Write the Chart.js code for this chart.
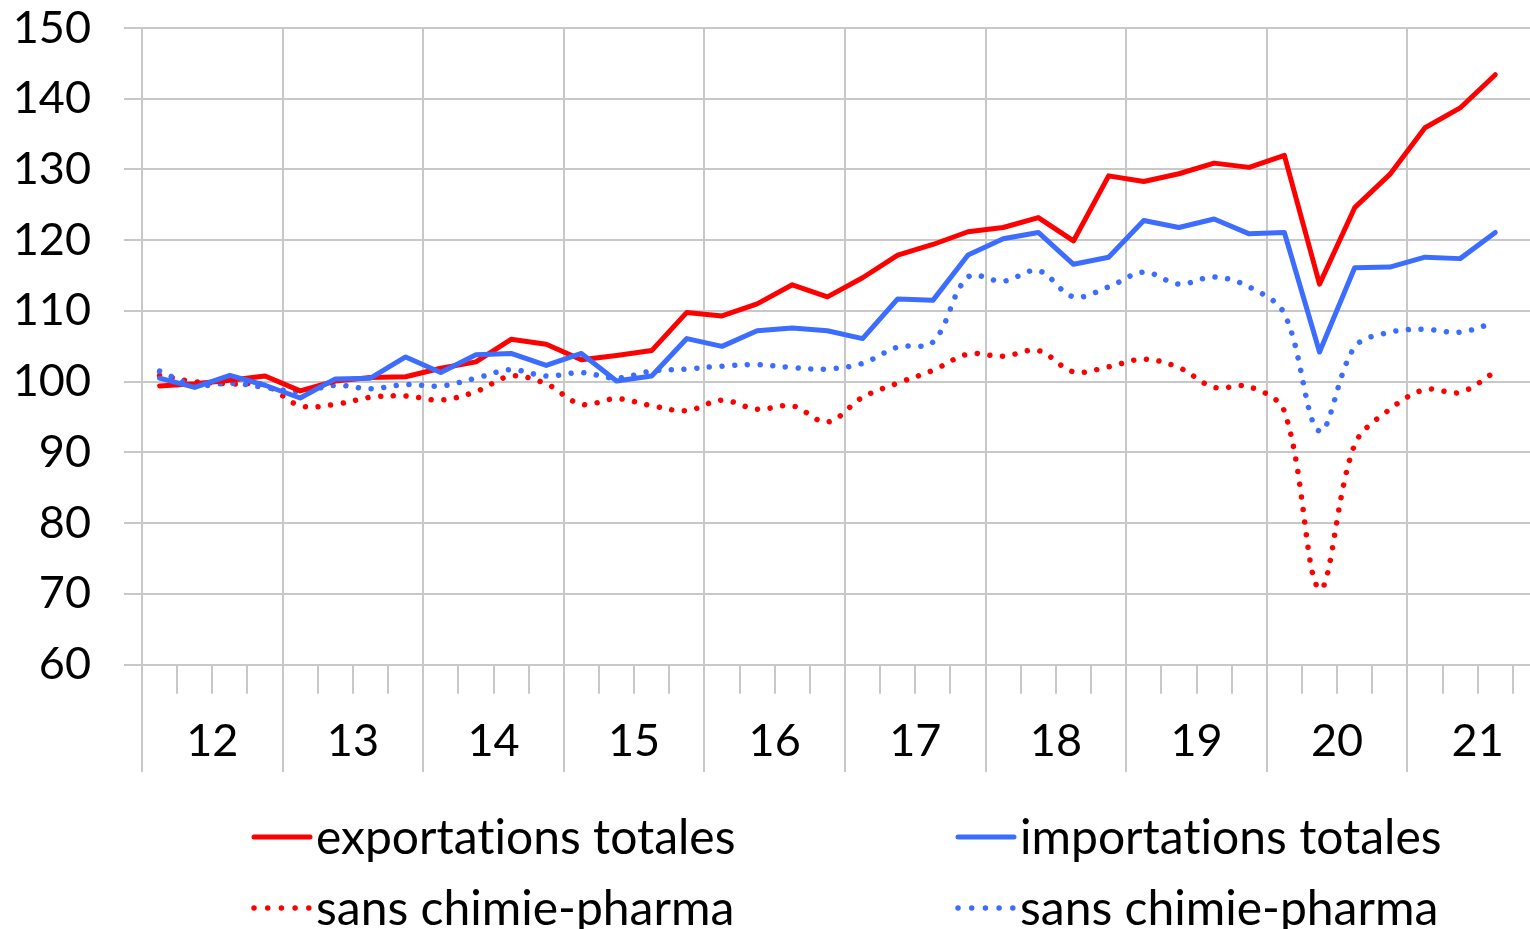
<!DOCTYPE html>
<html><head><meta charset="utf-8">
<script src="https://cdn.jsdelivr.net/npm/chart.js@4.4.1/dist/chart.umd.min.js"></script>
<style>
html,body{margin:0;padding:0;width:1530px;height:929px;overflow:hidden;background:#fff;}
#wrap{position:absolute;left:0;top:0;width:1560px;height:780px;}
#legend{position:absolute;left:0;top:0;width:1530px;height:929px;pointer-events:none;}
.item{position:absolute;height:60px;display:flex;align-items:center;white-space:nowrap;
  font-family:Lato,"Open Sans",sans-serif;font-size:48px;color:#000;
  font-variant-ligatures:none;font-feature-settings:"liga" 0,"clig" 0;}
.item svg{margin-right:3px;flex:none;}
</style></head>
<body>
<div id="wrap"><canvas id="c" width="1560" height="780"></canvas></div>
<div id="legend"></div>
<script>
// ---- data (quarterly, 2012Q1 .. 2021Q3) ----
const years = ['12','13','14','15','16','17','18','19','20','21'];
const seriesLabels = ['exportations totales','importations totales','sans chimie-pharma','sans chimie-pharma'];
const exportsTotal = [99.4,99.7,100.2,100.8, 98.7,100.1,100.6,100.7, 101.9,102.8,106.0,105.3,
  103.1,103.7,104.4,109.8, 109.3,111.0,113.7,112.0, 114.7,117.9,119.4,121.2, 121.8,123.2,119.9,129.1,
  128.3,129.4,130.9,130.3, 132.0,113.8,124.6,129.3, 135.9,138.7,143.4];
const importsTotal = [100.5,99.2,100.9,99.5, 97.7,100.4,100.5,103.5, 101.3,103.8,104.0,102.3,
  104.0,100.1,100.8,106.1, 105.0,107.2,107.6,107.2, 106.1,111.7,111.5,117.9, 120.2,121.1,116.6,117.6,
  122.8,121.8,123.0,120.9, 121.1,104.2,116.1,116.2, 117.6,117.4,121.1];
const exportsExPharma = [100.9,100.0,99.7,99.5, 96.6,96.8,97.8,98.0, 97.4,98.6,100.8,99.7,
  96.8,97.6,96.6,95.9, 97.4,96.1,96.6,94.3, 97.8,99.8,101.6,103.9, 103.6,104.4,101.4,102.1,
  103.2,102.0,99.2,99.3, 95.8,70.7,91.1,96.1, 98.9,98.5,101.4];
const importsExPharma = [101.5,99.5,99.8,99.2, 98.6,99.5,99.0,99.6, 99.4,100.5,101.7,100.8,
  101.3,100.5,101.5,101.8, 102.2,102.4,102.0,101.8, 102.6,104.9,105.6,114.8, 114.2,115.7,112.0,113.4,
  115.5,113.8,114.8,113.4, 109.6,93.0,104.9,107.0, 107.4,107.0,108.4];
const yTicks = [60,70,80,90,100,110,120,130,140,150];

// ---- styles ----
const RED = '#ff0000', BLUE = '#3c6dff', GRID = '#c8c8c8';
const FONT = 'Lato, "Open Sans", sans-serif';
const nQuarters = years.length * 4;
const toPts = arr => arr.map((v, i) => ({x: i + 0.5, y: v}));
const DOT = [0.001, 12.7];

const datasets = [
  {label: seriesLabels[0], data: toPts(exportsTotal), borderColor: RED, borderWidth: 5, tension: 0, order: 1},
  {label: seriesLabels[1], data: toPts(importsTotal), borderColor: BLUE, borderWidth: 5, tension: 0, order: 0},
  {label: seriesLabels[2], data: toPts(exportsExPharma), borderColor: RED, borderWidth: 5.5, borderDash: DOT, tension: 0.35, order: 3},
  {label: seriesLabels[3], data: toPts(importsExPharma), borderColor: BLUE, borderWidth: 5.5, borderDash: DOT, tension: 0.35, order: 2}
].map(d => Object.assign({pointRadius: 0, fill: false, borderCapStyle: 'round', borderJoinStyle: 'round'}, d));

const yearLines = {
  id: 'yearLines',
  afterDraw(chart) {
    const xs = chart.scales.x, ctx = chart.ctx;
    ctx.save();
    ctx.strokeStyle = GRID; ctx.lineWidth = 2;
    for (let v = 0; v <= nQuarters; v += 4) {
      const px = Math.round(xs.getPixelForValue(v));
      ctx.beginPath(); ctx.moveTo(px, xs.top); ctx.lineTo(px, 772); ctx.stroke();
    }
    ctx.restore();
  }
};

const noPad = s => { s.paddingTop = 0; s.paddingBottom = 0; s.paddingLeft = 0; s.paddingRight = 0; };

new Chart(document.getElementById('c'), {
  type: 'line',
  data: {datasets},
  plugins: [yearLines],
  options: {
    responsive: false, animation: false, devicePixelRatio: 1,
    layout: {padding: {top: 28, right: 12, left: 0, bottom: 0}},
    plugins: {legend: {display: false}, tooltip: {enabled: false}},
    scales: {
      x: {
        type: 'linear', min: 0, max: nQuarters,
        afterBuildTicks: s => { s.ticks = Array.from({length: nQuarters + 1}, (_, i) => ({value: i})); },
        afterFit: s => { s.height = 115.3; noPad(s); },
        border: {display: false},
        grid: {
          color: c => (c.tick && c.tick.value % 4 === 0) ? GRID : 'rgba(0,0,0,0)',
          tickColor: GRID, lineWidth: 2, tickWidth: 2, tickLength: 29
        },
        ticks: {
          autoSkip: false, maxRotation: 0, minRotation: 0, padding: 21, color: '#000',
          font: {family: FONT, size: 45},
          callback: v => (v % 4 === 2) ? years[(v - 2) / 4] : ''
        }
      },
      y: {
        min: 60, max: 150,
        afterBuildTicks: s => { s.ticks = yTicks.map(v => ({value: v})); },
        afterFit: s => { s.width = 142; noPad(s); },
        border: {display: false},
        grid: {color: GRID, tickColor: GRID, lineWidth: 2, tickLength: 18},
        ticks: {padding: 33, color: '#000', font: {family: FONT, size: 45}}
      }
    }
  }
});

// ---- legend (2 x 2) ----
const legendPos = [{x: 253, y: 837}, {x: 957, y: 837}, {x: 253, y: 908}, {x: 957, y: 908}];
const legend = document.getElementById('legend');
datasets.forEach((d, i) => {
  const p = legendPos[i];
  const el = document.createElement('div');
  el.className = 'item';
  el.style.left = (p.x - 2) + 'px';
  el.style.top = (p.y - 30 - 2) + 'px';
  const dash = d.borderDash ? 'stroke-dasharray="0.001 13.7"' : '';
  const sw = d.borderDash ? 5.5 : 5;
  el.innerHTML = '<svg width="62" height="60" style="margin-top:4px"><line x1="3" y1="30" x2="59" y2="30" stroke="' + d.borderColor +
    '" stroke-width="' + sw + '" stroke-linecap="round" ' + dash + '/></svg><span>' + d.label + '</span>';
  legend.appendChild(el);
});
</script>
</body></html>
